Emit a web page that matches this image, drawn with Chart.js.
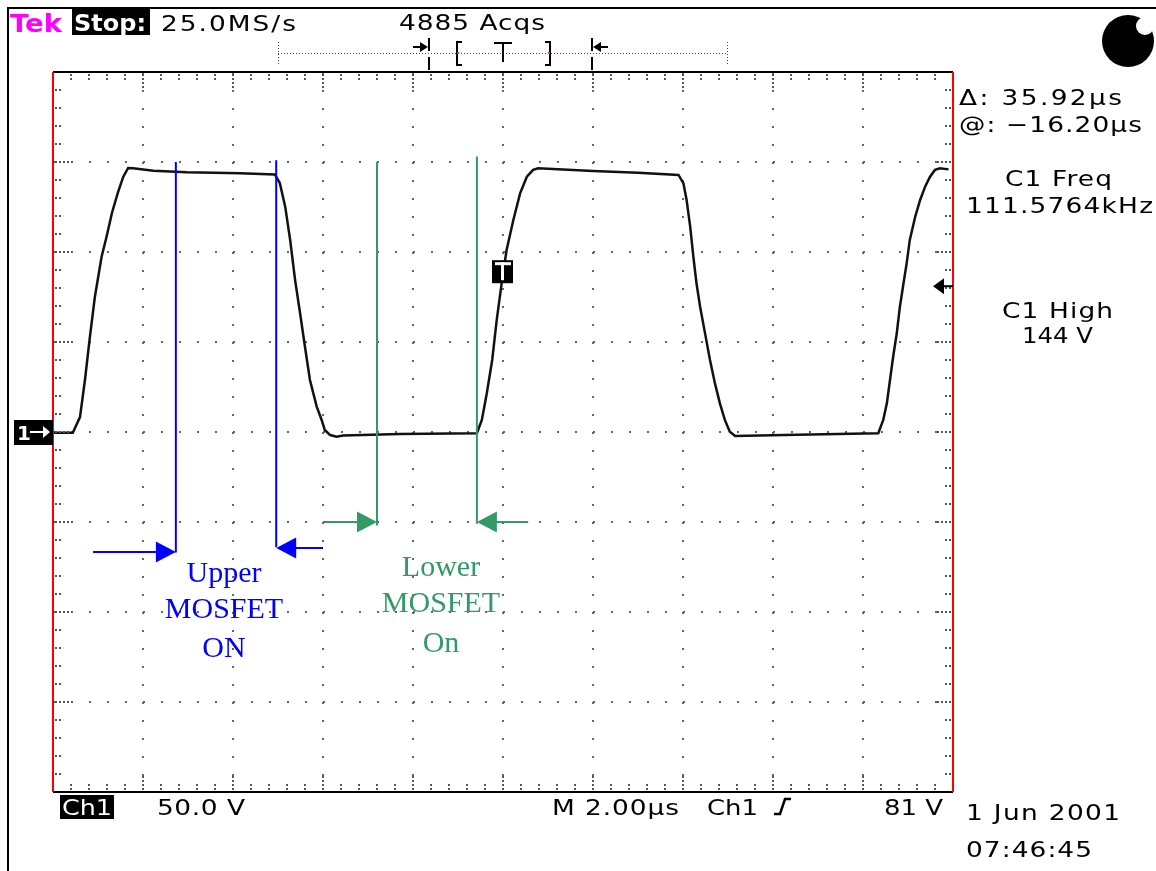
<!DOCTYPE html>
<html lang="en">
<head>
<meta charset="UTF-8">
<title>Tek scope capture - MOSFET switching</title>
<script src="https://cdn.jsdelivr.net/npm/chart.js"></script>
<style>
  body { margin: 0; background: #fff; }
  #wrap { width: 1156px; height: 871px; }
</style>
</head>
<body>
<div id="wrap"><canvas id="scope" width="1156" height="871"></canvas></div>
<script>
// Ch1 trace: time in us from the left edge, volts
const timeUs = [0, 0.44, 0.6, 0.71, 0.82, 0.93, 1.08, 1.19, 1.31, 1.44, 1.56, 1.67, 1.78, 2.23, 2.97, 4.16, 4.93,
  5.04, 5.16, 5.27, 5.38, 5.49, 5.6, 5.71, 5.86, 5.97, 6.04, 6.16, 6.3, 6.45, 7.71,
  9.42, 9.53, 9.64, 9.76, 9.86, 9.97, 10.08, 10.23, 10.38, 10.53, 10.67, 10.78, 12.0, 13.0, 13.9,
  14.01, 14.08, 14.16, 14.23, 14.3, 14.38, 14.49, 14.6, 14.71, 14.82, 14.93, 15.04, 15.16, 16.53, 18.34,
  18.45, 18.53, 18.6, 18.67, 18.75, 18.82, 18.9, 18.97, 19.04, 19.16, 19.27, 19.38, 19.49, 19.6, 19.71, 19.9];
const ch1Volts = [-0.4, -0.4, 8.3, 28.9, 52.8, 75, 97.4, 108.5, 121.7, 132.8, 141.7, 146.7, 146.5, 145.2, 144.3, 143.7, 143.1,
  138.3, 125.2, 106.7, 84.4, 66.1, 47.2, 28.9, 14.1, 6.7, 1.1, -1.7, -2.6, -2.0, -1.1,
  -0.7, 6.7, 21.5, 40, 62.2, 82.6, 101.1, 117.8, 132.6, 141.8, 145.6, 146.5, 145.0, 144.0, 142.8,
  138.1, 128.9, 114.1, 97.4, 82.6, 69.6, 54.8, 40, 27.0, 15.9, 6.7, 0.2, -2.2, -1.5, -0.7,
  6.7, 15.9, 28.9, 41.8, 54.8, 69.6, 82.6, 93.7, 106.7, 119.6, 128.9, 136.3, 141.8, 145.6, 146.5, 145.9];

// hand drawn cursors (us / V)
const upperCursorsUs = [2.73, 4.96];
const upperCursorTopV = [150, 151];
const upperCursorBottomV = [-67, -64];
const upperArrowFromUs = [0.89, 6.0];
const upperArrowV = [-66.7, -64.4];
const lowerCursorsUs = [7.2, 9.42];
const lowerCursorTopV = [150, 153];
const lowerCursorBottomV = [-52, -51];
const lowerArrowFromUs = [6.04, 10.56];
const lowerArrowV = [-50, -50];

const groundV = 0;
const triggerLevelV = 81;
const triggerUs = 10;

// 10 divs of 2us, 8 divs of 50V
const timeRange = [0, 20];
const voltRange = [-200, 200];

const topReadouts = ['Tek', 'Stop:', '25.0MS/s', '4885 Acqs'];
const sideReadouts = ['Δ: 35.92µs', '@: −16.20µs', 'C1 Freq', '111.5764kHz', 'C1 High', '144 V'];
const bottomReadouts = ['Ch1', '50.0 V', 'M 2.00µs', 'Ch1', '81 V'];
const dateStamp = ['1 Jun 2001', '07:46:45'];
const upperLabel = ['Upper', 'MOSFET', 'ON'];
const lowerLabel = ['Lower', 'MOSFET', 'On'];

const BLUE = '#0000ff';
const GREEN = '#339966';
const scopeFont = '22px "DejaVu Sans"';

// scope font is wide: stretch glyphs a bit, then space them out to the width on screen
function fitText(ctx, txt, x, y, w, color) {
  ctx.letterSpacing = '0px';
  const m = ctx.measureText(txt).width;
  const sx = Math.min(w / m, 1.2);
  const ls = txt.length > 1 ? (w / sx - m) / (txt.length - 1) : 0;
  ctx.save();
  ctx.letterSpacing = ls + 'px';
  ctx.fillStyle = color;
  ctx.textAlign = 'left';
  ctx.textBaseline = 'alphabetic';
  ctx.translate(x, y);
  ctx.scale(sx, 1);
  ctx.fillText(txt, 0, 0);
  ctx.restore();
  ctx.letterSpacing = '0px';
}

function arrow(ctx, x1, x2, y, color) {
  const dir = x2 > x1 ? 1 : -1;
  ctx.strokeStyle = color;
  ctx.fillStyle = color;
  ctx.lineWidth = 2;
  ctx.beginPath();
  ctx.moveTo(x1, y);
  ctx.lineTo(x2 - dir * 10, y);
  ctx.stroke();
  ctx.beginPath();
  ctx.moveTo(x2, y);
  ctx.lineTo(x2 - dir * 20, y - 10.5);
  ctx.lineTo(x2 - dir * 20, y + 10.5);
  ctx.closePath();
  ctx.fill();
}

const scopeOverlay = {
  id: 'scopeOverlay',
  afterDatasetsDraw(chart) {
    const ctx = chart.ctx;
    const xs = chart.scales.x, ys = chart.scales.y;
    const a = chart.chartArea;
    ctx.save();

    // edge ticks
    ctx.fillStyle = '#555';
    const dot = (x, y) => ctx.fillRect(Math.round(x) - 1, Math.round(y) - 1, 2, 2);
    for (let i = 1; i < 50; i++) {
      const px = xs.getPixelForValue(i * 0.4);
      const offs = i % 5 === 0 ? [3, 7, 11, 15] : [3, 7];
      offs.forEach(o => { dot(px, a.top + o); dot(px, a.bottom - o); });
    }
    for (let i = 1; i < 40; i++) {
      const py = ys.getPixelForValue(voltRange[0] + i * 10);
      const offs = i % 5 === 0 ? [3, 7, 11, 15] : [3, 7];
      offs.forEach(o => { dot(a.left + o, py); dot(a.right - o, py); });
    }

    // screen border
    ctx.lineWidth = 2;
    ctx.strokeStyle = '#000';
    ctx.beginPath();
    ctx.moveTo(a.left, a.top); ctx.lineTo(a.right, a.top);
    ctx.moveTo(a.left, a.bottom); ctx.lineTo(a.right, a.bottom);
    ctx.stroke();
    ctx.strokeStyle = '#ff0000';
    ctx.beginPath();
    ctx.moveTo(a.left, a.top); ctx.lineTo(a.left, a.bottom);
    ctx.moveTo(a.right, a.top); ctx.lineTo(a.right, a.bottom);
    ctx.stroke();

    // outer frame of the capture
    ctx.strokeStyle = '#000';
    ctx.beginPath();
    ctx.moveTo(8, 871); ctx.lineTo(8, 8); ctx.lineTo(1156, 8);
    ctx.stroke();

    // cursors and arrows
    const cursors = (us, top, bottom, color) => {
      ctx.strokeStyle = color;
      ctx.lineWidth = 2;
      us.forEach((t, i) => {
        const px = xs.getPixelForValue(t);
        ctx.beginPath();
        ctx.moveTo(px, ys.getPixelForValue(top[i]));
        ctx.lineTo(px, ys.getPixelForValue(bottom[i]));
        ctx.stroke();
      });
    };
    cursors(upperCursorsUs, upperCursorTopV, upperCursorBottomV, BLUE);
    cursors(lowerCursorsUs, lowerCursorTopV, lowerCursorBottomV, GREEN);
    upperArrowFromUs.forEach((t, i) => arrow(ctx, xs.getPixelForValue(t), xs.getPixelForValue(upperCursorsUs[i]), ys.getPixelForValue(upperArrowV[i]), BLUE));
    lowerArrowFromUs.forEach((t, i) => arrow(ctx, xs.getPixelForValue(t), xs.getPixelForValue(lowerCursorsUs[i]), ys.getPixelForValue(lowerArrowV[i]), GREEN));

    // labels
    ctx.font = '30px "Liberation Serif"';
    ctx.textAlign = 'center';
    ctx.textBaseline = 'alphabetic';
    ctx.fillStyle = BLUE;
    [582, 618, 657].forEach((y, i) => ctx.fillText(upperLabel[i], 224, y));
    ctx.fillStyle = GREEN;
    [576, 612, 652].forEach((y, i) => ctx.fillText(lowerLabel[i], 441, y));

    // ground marker "1->"
    const gy = ys.getPixelForValue(groundV);
    ctx.fillStyle = '#000';
    ctx.fillRect(14, gy - 12, a.left - 14, 25);
    ctx.fillStyle = '#fff';
    ctx.font = 'bold 20px "DejaVu Sans"';
    ctx.textAlign = 'left';
    ctx.fillText('1', 17, gy + 8);
    ctx.strokeStyle = '#fff';
    ctx.lineWidth = 2;
    ctx.beginPath(); ctx.moveTo(30, gy); ctx.lineTo(44, gy); ctx.stroke();
    ctx.beginPath(); ctx.moveTo(50, gy); ctx.lineTo(43, gy - 6); ctx.lineTo(43, gy + 6); ctx.closePath(); ctx.fill();

    // trigger point marker
    const tx = xs.getPixelForValue(triggerUs), ty = ys.getPixelForValue(triggerLevelV);
    ctx.fillStyle = '#000';
    ctx.fillRect(tx - 11, ty - 26, 21, 23);
    ctx.fillStyle = '#fff';
    ctx.fillRect(tx - 8, ty - 24, 16, 3);
    ctx.fillRect(tx - 2, ty - 24, 3, 18);

    // trigger level arrow on the right edge
    ctx.fillStyle = '#000';
    ctx.strokeStyle = '#000';
    ctx.beginPath(); ctx.moveTo(a.right - 20, ty); ctx.lineTo(a.right - 9, ty - 8); ctx.lineTo(a.right - 9, ty + 8); ctx.closePath(); ctx.fill();
    ctx.beginPath(); ctx.moveTo(a.right - 10, ty); ctx.lineTo(a.right, ty); ctx.stroke();

    // record length ruler at the top
    ctx.strokeStyle = '#444';
    ctx.lineWidth = 1;
    ctx.setLineDash([1, 2]);
    ctx.beginPath();
    ctx.moveTo(278, 53.5); ctx.lineTo(727, 53.5);
    ctx.moveTo(278.5, 42); ctx.lineTo(278.5, 65);
    ctx.moveTo(727.5, 42); ctx.lineTo(727.5, 65);
    ctx.stroke();
    ctx.setLineDash([]);
    ctx.strokeStyle = '#000';
    ctx.lineWidth = 2;
    ctx.beginPath();
    ctx.moveTo(429, 38); ctx.lineTo(429, 51); ctx.moveTo(429, 57); ctx.lineTo(429, 70);
    ctx.moveTo(592, 38); ctx.lineTo(592, 51); ctx.moveTo(592, 57); ctx.lineTo(592, 70);
    ctx.moveTo(413, 47); ctx.lineTo(422, 47);
    ctx.moveTo(608, 47); ctx.lineTo(599, 47);
    // brackets and T
    ctx.moveTo(462, 42); ctx.lineTo(457, 42); ctx.lineTo(457, 65); ctx.lineTo(462, 65);
    ctx.moveTo(545, 42); ctx.lineTo(550, 42); ctx.lineTo(550, 65); ctx.lineTo(545, 65);
    ctx.moveTo(494, 43); ctx.lineTo(512, 43); ctx.moveTo(503, 43); ctx.lineTo(503, 62);
    ctx.stroke();
    ctx.fillStyle = '#000';
    ctx.beginPath(); ctx.moveTo(428, 47); ctx.lineTo(420, 42); ctx.lineTo(420, 52); ctx.closePath(); ctx.fill();
    ctx.beginPath(); ctx.moveTo(593, 47); ctx.lineTo(601, 42); ctx.lineTo(601, 52); ctx.closePath(); ctx.fill();
    ctx.fillStyle = '#ff00ff';
    ctx.fillRect(457, 52, 2, 2);
    ctx.fillRect(548, 52, 2, 2);

    // status dot, top right
    ctx.fillStyle = '#000';
    ctx.beginPath(); ctx.arc(1128, 41, 26, 0, Math.PI * 2); ctx.fill();
    ctx.fillStyle = '#fff';
    ctx.beginPath(); ctx.arc(1145, 26, 9, 0, Math.PI * 2); ctx.fill();

    // readouts
    ctx.font = 'bold 25px "DejaVu Sans"';
    fitText(ctx, topReadouts[0], 10, 32, 52, '#ff00ff');
    ctx.fillStyle = '#000';
    ctx.fillRect(72, 7, 78, 28);
    ctx.font = 'bold 23px "DejaVu Sans"';
    fitText(ctx, topReadouts[1], 74, 31, 72, '#fff');
    ctx.font = scopeFont;
    fitText(ctx, topReadouts[2], 161, 31, 135, '#000');
    fitText(ctx, topReadouts[3], 399, 30, 146, '#000');

    const side = [[959, 105, 163], [959, 132, 183], [1005, 186, 107], [966, 213, 187], [1002, 318, 111], [1022, 343, 71]];
    side.forEach((p, i) => fitText(ctx, sideReadouts[i], p[0], p[1], p[2], '#000'));

    ctx.fillStyle = '#000';
    ctx.fillRect(60, 795, 54, 24);
    fitText(ctx, bottomReadouts[0], 62, 815, 50, '#fff');
    const bottom = [null, [157, 815, 88], [552, 815, 127], [707, 815, 51], [884, 815, 59]];
    for (let i = 1; i < bottom.length; i++) fitText(ctx, bottomReadouts[i], bottom[i][0], bottom[i][1], bottom[i][2], '#000');
    // rising edge slope symbol
    ctx.strokeStyle = '#000';
    ctx.lineWidth = 2.5;
    ctx.beginPath();
    ctx.moveTo(774, 814); ctx.lineTo(780, 814); ctx.lineTo(785, 799); ctx.lineTo(791, 799);
    ctx.stroke();
    fitText(ctx, dateStamp[0], 966, 820, 154, '#000');
    fitText(ctx, dateStamp[1], 966, 857, 126, '#000');

    ctx.restore();
  }
};

const ctx = document.getElementById('scope').getContext('2d');
const chart = new Chart(ctx, {
  type: 'line',
  data: {
    datasets: [{
      label: 'Ch1',
      data: timeUs.map((t, i) => ({ x: t, y: ch1Volts[i] })),
      borderColor: '#111',
      borderWidth: 2.5,
      pointRadius: 0,
      tension: 0,
      fill: false
    }]
  },
  options: {
    responsive: false,
    animation: false,
    events: [],
    layout: { padding: { left: 53, top: 72, right: 203, bottom: 79 } },
    plugins: { legend: { display: false }, tooltip: { enabled: false } },
    scales: {
      x: {
        type: 'linear',
        min: timeRange[0],
        max: timeRange[1],
        ticks: { stepSize: 2, display: false },
        grid: { color: '#666', lineWidth: 2, drawTicks: false },
        border: { display: false, dash: [2, 16] }
      },
      y: {
        min: voltRange[0],
        max: voltRange[1],
        ticks: { stepSize: 50, display: false },
        grid: { color: '#666', lineWidth: 2, drawTicks: false },
        border: { display: false, dash: [2, 16] }
      }
    }
  },
  plugins: [scopeOverlay]
});
</script>
</body>
</html>
